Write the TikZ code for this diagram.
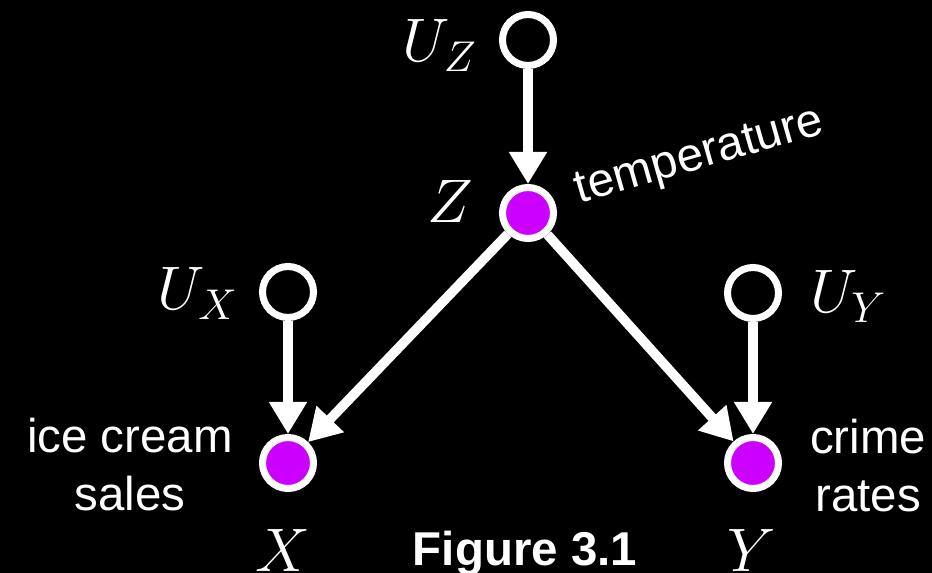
\documentclass[tikz,border=0pt]{standalone}
\usepackage{fix-cm}
\usepackage{fontspec}
\setsansfont{Liberation Sans}
\usetikzlibrary{arrows.meta}
\definecolor{nodefill}{RGB}{204,0,255}

\begin{document}
\begin{tikzpicture}[
  exo/.style={circle,draw=white,line width=4pt,fill=black,minimum size=1.02cm,inner sep=0pt},
  endo/.style={circle,draw=white,line width=4pt,fill=nodefill,minimum size=1.02cm,inner sep=0pt},
  var/.style={text=white,inner sep=0pt,font=\fontsize{35}{40}\selectfont},
  txt/.style={text=white,inner sep=0pt,align=center,font=\sffamily\fontsize{27}{33}\selectfont},
  cause/.style={-{Triangle[length=0.64cm,width=0.72cm]},white,line width=5.5pt},
]
  \fill[black] (0,0) rectangle (18.64,11.46);
  \useasboundingbox (0,0) rectangle (18.64,11.46);
  \node[exo]  (uz) at (10.56,10.66) {};
  \node[endo] (z)  at (10.56,7.20)  {};
  \node[exo]  (ux) at (5.76,5.62)   {};
  \node[endo] (x)  at (5.76,2.20)   {};
  \node[exo]  (uy) at (15.06,5.60)  {};
  \node[endo] (y)  at (15.06,2.20)  {};
  \node[var,anchor=base east] (luz) at (9.54,10.22) {$U_Z$};
  \node[var,anchor=base]      (lz)  at (9.00,7.00)  {$Z$};
  \node[var,anchor=base east] (lux) at (4.76,5.26)  {$U_X$};
  \node[var,anchor=base west] (luy) at (16.20,5.20) {$U_Y$};
  \node[var,anchor=base]      (lx)  at (5.66,0.02)  {$X$};
  \node[var,anchor=base]      (ly)  at (15.04,0.02) {$Y$};
  \node[txt,rotate=16] (temp)  at (14.00,8.30) {temperature};
  \node[txt] (sales) at (2.60,2.16) {ice cream\\sales};
  \node[txt] (crime) at (17.36,2.14) {crime\\rates};
  \node[txt,anchor=base,font=\sffamily\bfseries\fontsize{27}{33}\selectfont] (fig) at (10.50,0.14) {Figure 3.1};
  \foreach \a/\b in {uz/z,ux/x,uy/y,z/x,z/y}
    \draw[cause] (\a) -- (\b);
\end{tikzpicture}
\end{document}
